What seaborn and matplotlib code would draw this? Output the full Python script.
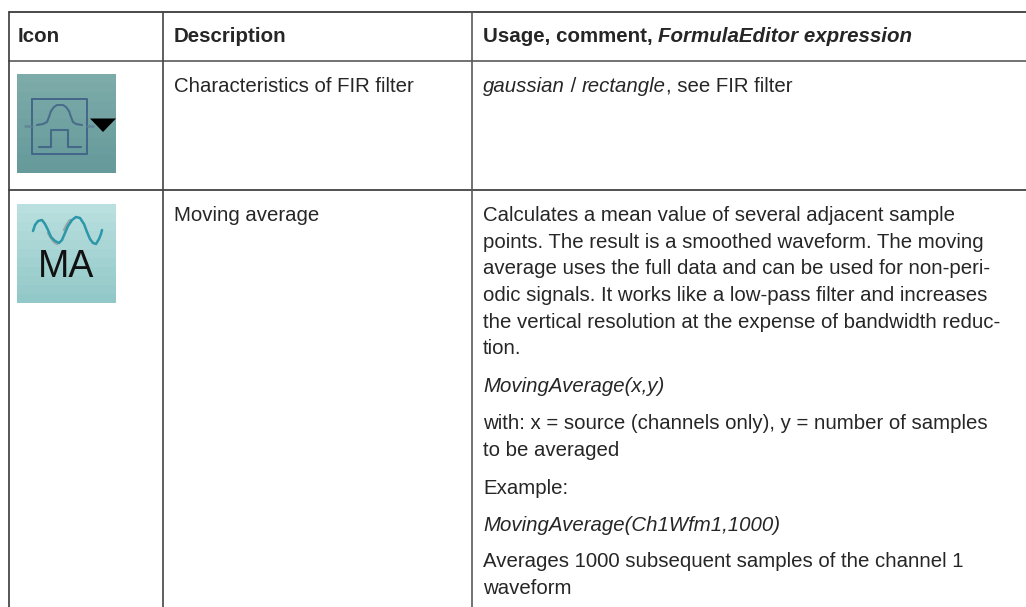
import matplotlib
matplotlib.use("Agg")
import matplotlib.pyplot as plt
import seaborn as sns
from matplotlib.colors import LinearSegmentedColormap

# Table contents
header_icon = "Icon"
header_desc = "Description"
header_usage = [("Usage, comment, ", "normal"), ("FormulaEditor expression", "italic")]

row1_desc = "Characteristics of FIR filter"
row1_usage = [("gaussian", "italic"), (" / ", "normal"), ("rectangle", "italic"), (", see FIR filter", "normal")]

row2_desc = "Moving average"
row2_usage = [
    ("Calculates a mean value of several adjacent sample", "normal", 221),
    ("points. The result is a smoothed waveform. The moving", "normal", 248),
    ("average uses the full data and can be used for non-peri-", "normal", 274),
    ("odic signals. It works like a low-pass filter and increases", "normal", 301),
    ("the vertical resolution at the expense of bandwidth reduc-", "normal", 328),
    ("tion.", "normal", 354),
    ("MovingAverage(x,y)", "italic", 392),
    ("with: x = source (channels only), y = number of samples", "normal", 429),
    ("to be averaged", "normal", 456),
    ("Example:", "normal", 494),
    ("MovingAverage(Ch1Wfm1,1000)", "italic", 531),
    ("Averages 1000 subsequent samples of the channel 1", "normal", 567),
    ("waveform", "normal", 594),
]

# Rules of the table, in pixels
col_x = [9, 163, 472]
row_y = [12, 61, 190]

# Icon backgrounds, top to bottom
icon1_shades = [0.0, 0.1, 0.2, 0.3, 0.4, 0.5, 0.6, 0.7, 0.8, 0.9, 1.0]
icon2_shades = [0.0, 0.1, 0.2, 0.3, 0.4, 0.5, 0.6, 0.7, 0.8, 0.9, 1.0]

# Icon glyphs
box_x = [32, 87, 87, 32, 32]
box_y = [99, 99, 154, 154, 99]
gauss_x = [37, 43, 47, 49, 51, 54, 57, 60, 63, 66, 69, 71, 73, 76, 82]
gauss_y = [125, 124, 122, 117, 111, 107, 105, 105, 105, 107, 111, 117, 122, 124, 125]
rect_x = [39, 51, 51, 68, 68, 81]
rect_y = [147, 147, 130, 130, 147, 147]
stub_left_x = [25, 32]
stub_right_x = [87, 93]
stub_y = [126, 126]
arrow_x = [90, 116, 103]
arrow_y = [118.5, 118.5, 132]
wave_x = [33, 35, 38, 42, 45, 48, 51, 55, 59, 62, 65, 68, 72, 76, 80, 84, 87, 90, 93, 96, 99, 101, 102]
wave_y = [231, 225, 221, 220, 224, 230, 237, 241, 243, 240, 233, 226, 220, 217, 218, 224, 232, 239, 243, 244, 239, 234, 230]
grey_x = [48, 51, 54, 57]
grey_y = [233, 238, 242, 244]
grey2_x = [64, 67, 70]
grey2_y = [230, 224, 220]

W, H = 1026, 607
TEXT = "#262626"

sns.set_theme(style="white")
plt.rcParams["font.family"] = ["Liberation Sans", "DejaVu Sans"]

fig = plt.figure(figsize=(W / 100, H / 100), dpi=100, facecolor="white")
ax = fig.add_axes([0, 0, 1, 1])
ax.set_zorder(2)
ax.axis("off")


def draw_line(xs, ys, color, lw, alpha=1.0):
    sns.lineplot(x=xs, y=ys, ax=ax, color=color, lw=lw, alpha=alpha,
                 estimator=None, sort=False, legend=False)


def draw_icon(left, top, size, shades, top_color, bottom_color):
    cmap = LinearSegmentedColormap.from_list("icon", [top_color, bottom_color])
    iax = fig.add_axes([left / W, 1 - (top + size) / H, size / W, size / H])
    data = [[s] for s in shades]
    sns.heatmap(data, ax=iax, cmap=cmap, vmin=0, vmax=1, cbar=False,
                xticklabels=False, yticklabels=False)


def draw_runs(x, y, runs, size=14.65, weight="normal"):
    # Stick text runs together, measuring each one
    renderer = fig.canvas.get_renderer()
    for txt, style in runs:
        ax.text(x, y, txt, fontsize=size, fontstyle=style, fontweight=weight,
                color=TEXT, va="baseline", ha="left")
        # trailing spaces are not measured well, so use a stand-in
        probe = ax.text(0, 0, txt.replace(" ", "\u00a0"), fontsize=size, fontstyle=style,
                        fontweight=weight)
        x += probe.get_window_extent(renderer).width
        probe.remove()


# Rules
for y, c in zip(row_y, ["#2b2b2b", "#5a5a5a", "#333333"]):
    draw_line([col_x[0], W], [y, y], c, 1.2)
for x, c in zip(col_x, ["#3a3a3a", "#444444", "#5a5a5a"]):
    draw_line([x, x], [row_y[0], H], c, 1.2)

# Icons
draw_icon(17, 74, 99, icon1_shades, "#7caba9", "#669a9b")
draw_icon(17, 204, 99, icon2_shades, "#b9dfde", "#93c8c9")

draw_line(box_x, box_y, "#3f5f85", 1.4, 0.9)
draw_line(gauss_x, gauss_y, "#3f5f85", 1.5, 0.8)
draw_line(rect_x, rect_y, "#3f5f85", 1.5, 0.85)
draw_line(stub_left_x, stub_y, "#5b7f95", 2, 0.7)
draw_line(stub_right_x, stub_y, "#5b7f95", 2, 0.7)
ax.fill(arrow_x, arrow_y, color="black", lw=0)

draw_line(grey_x, grey_y, "#9aa8a8", 1.8)
draw_line(grey2_x, grey2_y, "#9aa8a8", 1.8)
draw_line(wave_x, wave_y, "#2b97a8", 1.8)
ax.text(66, 277, "MA", fontsize=27, color="#111111", ha="center", va="baseline")

# Header
draw_runs(18, 42, [(header_icon, "normal")], size=14.8, weight="bold")
draw_runs(174, 42, [(header_desc, "normal")], size=14.8, weight="bold")
draw_runs(483, 42, header_usage, size=14.8, weight="bold")

# Row 1
draw_runs(174, 92, [(row1_desc, "normal")])
draw_runs(483, 92, row1_usage)

# Row 2
draw_runs(174, 221, [(row2_desc, "normal")])
for txt, style, y in row2_usage:
    draw_runs(483, y, [(txt, style)])

ax.set_xlim(0, W)
ax.set_ylim(H, 0)

fig.savefig("out.png", dpi=100)
plt.close(fig)
